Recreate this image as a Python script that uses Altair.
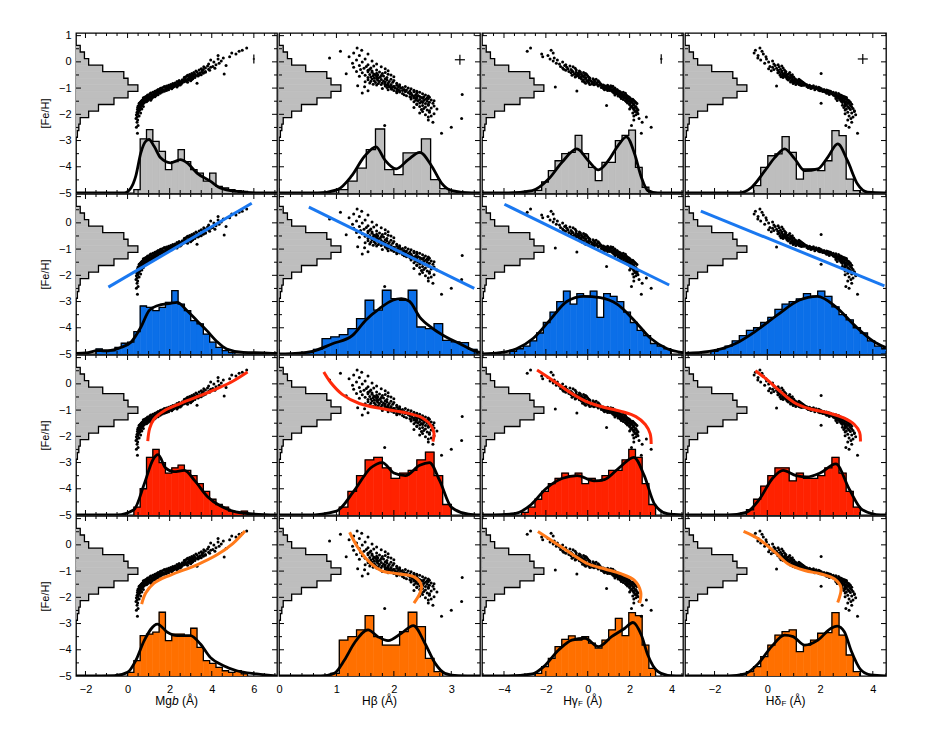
import altair as alt
import pandas as pd

W, H = 201, 160
FEH_DOMAIN = [-5.0, 1.1]
X_DOMAINS = [[-2.45, 7.1], [0.0, 3.5], [-5.05, 4.55], [-3.12, 4.5]]
HIST_X_FULL = 143      # count that would span the full panel width (left histogram)
HIST_UNIT = 0.1        # [Fe/H] units per count (bottom histograms)

X_LABELS = [[-2, 0, 2, 4, 6], [0, 1, 2, 3], [-4, -2, 0, 2, 4], [-2, 0, 2, 4]]
X_MAJOR_TICKS = [[-2, 0, 2, 4, 6], [0, 1, 2, 3], [-4, -2, 0, 2, 4], [-2, 0, 2, 4]]
X_MINOR_TICKS = [
    [-1.5, -1, -0.5, 0.5, 1, 1.5, 2.5, 3, 3.5, 4.5, 5, 5.5, 6.5, 7],
    [0.2, 0.4, 0.6, 0.8, 1.2, 1.4, 1.6, 1.8, 2.2, 2.4, 2.6, 2.8, 3.2, 3.4],
    [-5, -4.5, -3.5, -3, -2.5, -1.5, -1, -0.5, 0.5, 1, 1.5, 2.5, 3, 3.5, 4.5],
    [-3, -2.5, -1.5, -1, -0.5, 0.5, 1, 1.5, 2.5, 3, 3.5, 4.5],
]
Y_MAJOR_TICKS = [-5, -4, -3, -2, -1, 0, 1]
Y_MINOR_TICKS = [-4.5, -3.5, -2.5, -1.5, -0.5, 0.5]
Y_LABELS_TOP = [1, 0, -1, -2, -3, -4, -5]
Y_LABELS = [0, -1, -2, -3, -4, -5]

GRAY = "#bebebe"
FILLS = [GRAY, "#0b6fe8", "#ff2200", "#ff7000"]
LINES = [None, "#1a78f0", "#ff2a0a", "#ff7a1a"]

# ---------------- scatter data (one star per index) ----------------
FEH_BINS = [
    [0.53, 0.44, 0.40],
    [0.34, 0.30, 0.24, 0.19, 0.15],
    [0.11, 0.07, 0.03, -0.01, -0.05, -0.08, -0.11],
    [-0.14, -0.16, -0.18, -0.19, -0.21, -0.23, -0.24, -0.26, -0.28, -0.29, -0.31, -0.32, -0.34, -0.35, -0.37],
    [-0.38, -0.39, -0.40, -0.41, -0.42, -0.43, -0.44, -0.45, -0.46, -0.47, -0.48, -0.49, -0.50, -0.50, -0.51,
     -0.52, -0.53, -0.54, -0.55, -0.56, -0.57, -0.58, -0.59, -0.60, -0.60, -0.61, -0.62],
    [-0.63, -0.64, -0.65, -0.66, -0.67, -0.68, -0.69, -0.70, -0.71, -0.72, -0.73, -0.74, -0.75, -0.75, -0.76,
     -0.77, -0.78, -0.79, -0.80, -0.81, -0.82, -0.82, -0.83, -0.84, -0.85, -0.86, -0.86, -0.87, -0.88, -0.88],
    [-0.89, -0.89, -0.90, -0.91, -0.92, -0.92, -0.93, -0.94, -0.95, -0.95, -0.96, -0.97, -0.98, -0.98, -0.99,
     -1.00, -1.00, -1.01, -1.02, -1.03, -1.03, -1.04, -1.05, -1.06, -1.06, -1.07, -1.08, -1.09, -1.09, -1.10,
     -1.11, -1.11, -1.12, -1.12, -1.12],
    [-1.13, -1.14, -1.15, -1.16, -1.17, -1.18, -1.19, -1.20, -1.21, -1.22, -1.23, -1.24, -1.25, -1.25, -1.26,
     -1.27, -1.28, -1.29, -1.30, -1.31, -1.32, -1.33, -1.33, -1.34, -1.35, -1.36, -1.36, -1.37, -1.37, -1.19],
    [-1.38, -1.39, -1.40, -1.41, -1.42, -1.43, -1.44, -1.45, -1.46, -1.47, -1.48, -1.49, -1.50, -1.51, -1.52,
     -1.54, -1.55, -1.57, -1.58, -1.59, -1.61, -1.62],
    [-1.63, -1.65, -1.66, -1.68, -1.70, -1.72, -1.74, -1.76, -1.78, -1.80, -1.82, -1.84, -1.86],
    [-1.89, -1.92, -1.95, -1.98, -2.02, -2.06, -2.10],
    [-2.16, -2.22, -2.30],
    [-2.43, -2.49],
    [-2.72],
]
MGB_BINS = [
    [5.66, 5.45, 5.30],
    [4.95, 5.15, 4.30, 4.85, 4.55],
    [4.30, 3.95, 4.45, 4.10, 4.35, 3.85, 4.20],
    [4.68, 3.80, 4.05, 3.62, 3.95, 3.70, 4.15, 3.50, 3.85, 3.60, 3.40, 3.90, 3.55, 3.25, 3.70],
    [3.55, 3.30, 3.70, 3.15, 3.45, 3.60, 3.05, 3.35, 4.59, 3.20, 2.95, 3.50, 3.10, 3.40, 2.85,
     3.25, 3.00, 3.35, 2.80, 3.15, 2.90, 3.05, 2.70, 3.20, 2.95, 2.75, 3.00],
    [2.95, 3.10, 2.70, 2.85, 3.05, 2.60, 2.90, 2.75, 2.45, 3.00, 2.65, 2.80, 2.55, 2.35, 2.70,
     2.50, 2.85, 2.40, 2.60, 2.25, 3.30, 2.45, 2.15, 2.55, 2.30, 2.05, 2.40, 2.20, 2.50, 2.10],
    [2.25, 1.95, 2.40, 2.10, 1.85, 2.30, 2.05, 1.75, 2.20, 1.95, 2.35, 1.70, 2.00, 2.15, 1.80,
     1.60, 2.05, 1.90, 1.55, 1.85, 2.10, 1.65, 1.45, 1.80, 1.95, 1.50, 1.70, 1.40, 1.85, 1.60,
     1.35, 1.55, 1.75, 1.30, 1.50],
    [1.50, 1.30, 1.65, 1.20, 1.45, 1.35, 1.10, 1.55, 1.25, 1.40, 1.05, 1.30, 1.15, 1.45, 0.95,
     1.20, 1.35, 1.00, 1.25, 0.90, 1.10, 1.30, 0.85, 1.05, 1.20, 0.80, 0.95, 1.10, 0.75, 1.40],
    [1.05, 0.85, 1.15, 0.95, 0.75, 1.00, 0.90, 0.70, 1.10, 0.80, 0.95, 0.65, 0.85, 0.75, 0.90,
     0.60, 0.80, 0.70, 0.55, 0.75, 0.65, 0.60],
    [0.70, 0.55, 0.65, 0.50, 0.75, 0.60, 0.48, 0.62, 0.55, 0.68, 0.47, 0.58, 0.52],
    [0.52, 0.45, 0.62, 0.48, 0.42, 0.55, 0.45],
    [0.40, 0.48, 0.45],
    [0.50, 0.42],
    [0.47],
]
HB_BINS = [
    [1.36, 1.44, 1.07],
    [1.30, 1.55, 1.40, 1.22, 0.88],
    [1.50, 1.35, 1.62, 1.45, 1.28, 1.70, 1.55],
    [1.40, 1.65, 1.52, 1.78, 1.30, 1.60, 1.48, 1.85, 1.58, 1.42, 1.70, 1.55, 1.90, 1.62, 1.35],
    [1.55, 1.75, 1.62, 1.85, 1.45, 1.70, 1.80, 1.17, 1.65, 1.90, 1.58, 1.72, 1.68, 1.95, 1.50,
     1.78, 1.64, 1.82, 1.40, 1.70, 2.00, 1.60, 1.76, 1.88, 1.55, 1.73, 1.66],
    [1.70, 1.85, 1.62, 1.95, 1.78, 1.55, 1.88, 1.72, 2.00, 1.66, 1.82, 1.60, 1.92, 1.75, 1.50,
     1.85, 1.98, 1.68, 1.80, 1.58, 1.90, 2.05, 1.73, 1.84, 1.64, 1.95, 1.78, 2.10, 1.70, 1.88],
    [1.90, 2.05, 1.95, 1.37, 2.10, 1.85, 2.00, 2.20, 1.92, 1.49, 2.08, 1.98, 2.15, 1.88, 2.02,
     2.25, 1.95, 2.12, 1.80, 2.05, 2.30, 1.96, 2.18, 2.08, 1.90, 2.22, 2.35, 2.00, 2.15, 1.55,
     2.28, 2.10, 2.40, 2.20, 2.05],
    [2.20, 2.35, 2.10, 2.45, 2.25, 2.05, 2.40, 2.30, 2.15, 2.50, 2.28, 3.19, 2.38, 2.18, 2.55,
     2.32, 2.42, 2.22, 2.60, 2.35, 2.45, 2.28, 2.52, 2.40, 2.62, 2.30, 2.48, 2.38, 2.58, 1.45],
    [2.35, 2.50, 2.40, 2.60, 2.30, 2.55, 2.45, 2.65, 2.38, 2.52, 2.70, 2.42, 2.58, 2.48, 2.35,
     2.62, 2.50, 2.45, 2.68, 2.55, 2.40, 2.60],
    [2.40, 2.60, 2.50, 2.70, 2.45, 2.55, 2.35, 2.65, 2.52, 2.75, 2.48, 2.58, 2.62],
    [2.50, 2.62, 2.45, 2.70, 2.55, 2.65, 2.60],
    [3.18, 2.60, 2.68],
    [1.84, 3.00],
    [2.83],
]
HG_BINS = [
    [-2.73, -1.75, -2.89],
    [-1.65, -2.20, -1.90, -2.15, -1.60],
    [-1.80, -1.45, -1.65, -1.20, -1.50, -1.35, -1.05],
    [-1.10, -0.85, -1.30, -0.70, -1.00, -1.20, -0.60, -0.95, -1.15, -0.80, -0.55, -1.05, -0.75, -0.40, -0.90],
    [-0.70, -0.35, -0.55, -0.20, -0.80, -0.45, -0.10, -0.60, -0.30, -0.65, -0.05, -0.40, -0.50, -0.15, -0.75,
     -0.25, -0.45, 0.00, -0.55, -0.30, -0.20, -0.60, 0.05, -0.35, -0.10, -0.40, 0.10],
    [-0.10, 0.25, -0.30, 0.40, 0.05, -0.20, 0.30, 0.10, -0.05, 0.50, 0.15, -0.25, 0.35, 0.00, 0.20,
     0.55, -0.15, 0.25, 0.45, 0.05, 0.30, -0.10, 0.60, 0.20, 0.40, 0.10, 0.65, 0.30, 0.50, 0.75],
    [0.60, 0.95, 0.75, 1.10, 0.50, 0.85, 1.20, 0.70, 1.00, 0.90, -1.55, 0.80, 1.15, 0.65, 1.05,
     0.95, 1.30, 0.85, 0.75, 1.25, 1.00, 0.90, 1.40, 1.10, 0.80, 1.20, 1.35, 1.05, 0.95, 1.45,
     1.15, -0.52, 1.30, 1.50, 1.20],
    [1.30, 1.55, 1.20, 1.70, 1.40, 1.60, 1.25, 1.80, 1.50, 1.35, 1.65, 1.45, 1.75, 1.55, 1.30,
     1.85, 1.60, 1.70, 1.45, 1.90, 1.65, 1.55, 1.95, 1.75, 1.85, 1.60, 2.00, 1.80, 1.90, 1.40],
    [1.75, 1.95, 1.60, 2.05, 1.85, 2.15, 1.70, 2.00, 1.90, 2.20, 1.80, 2.10, 1.95, 2.25, 1.85,
     2.05, 2.30, 1.90, 2.15, 2.35, 2.00, 2.20],
    [2.00, 2.20, 0.90, 2.10, 2.30, 2.05, 2.25, 2.15, 2.35, 2.00, 2.20, 2.40, 2.30],
    [2.25, 2.35, 2.15, 2.40, 2.30, 2.20, 2.80],
    [2.45, 2.20, 2.60],
    [2.09, 3.03],
    [2.56],
]
HD_BINS = [
    [-0.28, -0.45, -0.20],
    [-0.50, -0.15, -0.35, -0.05, -0.36],
    [-0.03, -0.25, 0.20, 0.05, -0.10, 0.25, 0.41],
    [0.30, 0.55, 0.10, 0.45, 0.20, 0.60, 0.35, 0.05, 0.50, 0.25, 0.65, 0.40, 0.15, 0.55, 0.70],
    [0.45, 0.70, 0.55, 0.85, 0.40, 0.67, 2.04, 0.60, 0.80, 0.50, 0.75, 0.95, 0.62, 0.48, 0.88,
     0.70, 0.58, 0.92, 0.66, 0.78, 0.52, 1.00, 0.72, 0.60, 0.85, 0.95, 0.75],
    [0.85, 1.05, 0.75, 1.20, 0.95, 1.10, 0.80, 1.25, 1.00, 0.90, 1.15, 1.30, 0.95, 1.05, 1.20,
     0.88, 1.35, 1.10, 1.00, 1.25, 1.40, 1.15, 0.98, 1.30, 1.45, 1.20, 1.08, 1.50, 1.35, 1.25],
    [1.40, 1.60, 1.30, 1.75, 1.55, 0.35, 1.65, 1.50, 1.85, 1.70, 1.60, 1.95, 1.75, 1.55, 1.80,
     2.00, 1.70, 1.90, 1.65, 2.05, 1.85, 1.95, 2.15, 1.80, 2.05, 2.25, 1.95, 2.10, 2.30, 2.00,
     2.20, 2.35, 2.15, 2.40, 2.25],
    [2.10, 2.35, 2.20, 2.50, 2.30, 2.60, 2.40, 2.25, 2.70, 2.45, 2.55, 2.35, 2.75, 2.60, 2.50,
     2.80, 2.65, 2.55, 2.85, 2.70, 2.90, 2.60, 2.80, 2.95, 2.75, 2.85, 3.00, 2.90, 2.70, 2.30],
    [2.70, 2.90, 2.60, 3.00, 2.80, 2.95, 2.75, 3.05, 2.85, 2.65, 3.10, 2.90, 2.80, 3.00, 2.95,
     3.15, 2.85, 3.05, 2.04, 3.10, 2.95, 3.20],
    [3.00, 2.85, 3.15, 2.95, 3.05, 3.20, 2.90, 3.10, 3.25, 3.00, 3.15, 2.95, 3.30],
    [3.30, 3.05, 3.20, 2.95, 3.35, 3.10, 3.25],
    [3.17, 3.05, 3.20],
    [2.98, 3.10],
    [3.42],
]

# ---------------- [Fe/H] histogram (left, same in every panel) ----------------
FEH_EDGES = [0.625, 0.375, 0.125, -0.125, -0.375, -0.625, -0.875, -1.125, -1.375, -1.625,
             -1.875, -2.125, -2.375, -2.625, -2.875]
FEH_COUNTS = [3, 6, 9, 19, 34, 37, 44, 37, 27, 16, 9, 3, 2, 1]

# ---------------- index histograms: (first edge, bin width, counts) ----------------
HISTS = [
    [(0.3, 0.3, [1.3, 20.6, 24.2, 19.7, 15.9, 8.9, 12, 16.5, 12, 8.9, 7.6, 4.5, 7.6, 2.5, 1.9, 1.3, 0.9, 0.6]),
     (1.04, 0.16, [1.3, 4.5, 9.5, 16.5, 24.4, 8.9, 7, 15.3, 15.3, 20.6, 5.1, 1.7]),
     (-2.52, 0.32, [1, 4.2, 8.5, 12.3, 15, 15.5, 22, 15, 9.8, 4.7, 11.7, 11.7, 20, 22, 24, 9.8, 2.2]),
     (-0.52, 0.27, [2.8, 9.8, 14.2, 14.9, 21.5, 15.5, 5.3, 9.2, 9.2, 8.5, 12.3, 23.8, 21.9, 5.3, 0.9])],
    [(-1.5, 0.3, [1.9, 0.9, 1.2, 2.5, 4.1, 4.5, 8.5, 18.3, 17.8, 16.5, 17.8, 19.7, 24.2, 19, 16.5, 12.7,
                  11.5, 7.6, 4.5, 2.5, 1.3, 0.5]),
     (0.45, 0.15, [0.5, 1.8, 5.9, 6.5, 7.4, 9.7, 13.5, 20.5, 16.7, 24.3, 21.1, 20.5, 24.3, 10.3, 9.7, 11.6,
                   5.2, 4.6, 4.3, 1.8]),
     (-3.72, 0.32, [1, 2, 3, 5, 8, 12, 16, 20, 24, 19, 23, 22, 24, 14, 23, 22, 20, 16, 12, 9, 7, 4, 3, 2]),
     (-2.14, 0.27, [1, 2, 3, 5, 7, 9, 10, 12, 14, 17, 19, 20, 21, 23, 22, 24, 22, 18, 15, 13, 10, 8, 5, 3, 2])],
    [(0.3, 0.3, [3, 10, 22, 25, 20, 16, 18, 19, 17, 15, 12, 9, 6, 4, 3, 1.5, 1, 1.5]),
     (1.05, 0.15, [3, 9, 15, 21, 22, 18, 14, 16, 17, 21, 24, 15, 4]),
     (-3.16, 0.32, [1, 3, 6, 9, 12, 14, 16, 15, 16, 12, 14, 13, 15, 17, 17, 21, 25, 22, 12, 4]),
     (-0.79, 0.27, [2, 6, 11, 15, 18, 18, 13, 16, 14, 14, 15, 18, 22, 16, 9, 3])],
    [(0.0, 0.3, [1.4, 5.9, 15.4, 16, 16.7, 24.3, 13.5, 16, 16, 15.4, 18.2, 10.9, 5.9, 4.8, 3.3, 2, 1.4, 2, 0.8]),
     (0.9, 0.15, [1, 13.7, 15, 17.6, 23, 15, 11.8, 11.8, 16.9, 24.3, 18.8, 6.7, 1.7]),
     (-2.52, 0.32, [1, 3.6, 6.7, 11.2, 14, 15.3, 13.7, 15, 12.5, 10.6, 13.7, 17.6, 22, 15.4, 24.2, 23, 11.8, 2.9]),
     (-0.79, 0.27, [1.7, 3.6, 7.4, 11.8, 15.6, 16.9, 17.6, 9.3, 11.8, 13.7, 16.3, 16.5, 24.2, 15.6, 8, 1.7])],
]

# ---------------- smooth density curves ----------------
KDES = [
    [([-2.5, -0.6, -0.16, 0.16, 0.39, 0.63, 0.86, 1.02, 1.26, 1.57, 2.04, 2.51, 2.83, 3.30, 3.93, 4.40, 5.19, 6.44, 7.1],
      [0, 0, 0, 1.9, 6.4, 15.3, 19.7, 20.4, 17.8, 13.4, 11.5, 12.7, 11.5, 7.6, 4.5, 1.9, 0.6, 0, 0]),
     ([-0.1, 0.67, 1.02, 1.26, 1.49, 1.69, 1.84, 2.04, 2.25, 2.45, 2.66, 2.83, 3.01, 3.36, 3.6],
      [0, 0, 1.3, 6.4, 14.0, 17.6, 12.7, 9.2, 12.7, 15.5, 10.2, 3.8, 0.9, 0, 0]),
     ([-5.1, -3.92, -2.65, -1.87, -1.23, -0.52, 0.03, 0.51, 0.98, 1.45, 1.85, 2.24, 2.56, 2.87, 3.35, 4.6],
      [0, 0, 0.9, 5.3, 11.7, 16.8, 12.3, 8.8, 12.3, 18.1, 21.4, 14.9, 6, 0.9, 0, 0]),
     ([-3.2, -1.09, -0.59, -0.09, 0.29, 0.66, 1.04, 1.42, 1.92, 2.29, 2.67, 3.04, 3.42, 3.8, 4.42, 4.6],
      [0, 0, 2.2, 8.5, 13.6, 16.8, 13, 8.5, 9.2, 13.6, 18.7, 12.3, 3.4, 0.3, 0, 0])],
    [([-2.5, -1.97, -1.42, -0.94, -0.32, 0.16, 0.63, 1.02, 1.41, 2.04, 2.36, 2.83, 3.3, 3.77, 4.24, 4.71, 5.5, 6.44, 7.1],
      [0.2, 0.4, 1.3, 1.3, 2.5, 4.5, 10.2, 16.5, 18.4, 19.3, 19.7, 16.5, 12.7, 8.9, 4.8, 1.9, 0.6, 0.4, 0.2]),
     ([-0.005, 0.345, 0.58, 0.93, 1.28, 1.51, 1.75, 1.98, 2.13, 2.27, 2.45, 2.68, 2.91, 3.15, 3.38, 3.52],
      [0, 0.3, 1, 3.9, 7.1, 12.9, 17.3, 20.5, 21.1, 20.1, 14.1, 9.7, 6.5, 3.9, 1.4, 0.5]),
     ([-5.1, -4.2, -3.4, -2.6, -1.8, -1.0, -0.2, 0.6, 1.4, 2.2, 3.0, 3.8, 4.6],
      [0, 0.5, 2, 6, 13, 20, 22, 21.5, 19, 13, 6, 2, 0.5]),
     ([-3.2, -2.2, -1.2, -0.4, 0.4, 1.2, 1.9, 2.6, 3.3, 4.0, 4.6],
      [0.2, 1, 4, 9, 15, 20.5, 22, 18, 11, 5, 2])],
    [([-2.5, -0.5, 0.3, 0.8, 1.2, 1.45, 1.8, 2.2, 2.7, 3.2, 3.8, 4.4, 5, 5.8, 7.1],
      [0, 0, 2, 12, 21, 23, 18, 16.5, 17, 13, 7, 3.5, 1.5, 0.5, 0]),
     ([0, 0.5, 1.0, 1.3, 1.6, 1.8, 2.0, 2.2, 2.45, 2.62, 2.8, 3.0, 3.3, 3.5],
      [0, 0, 1.5, 9, 18, 20, 16, 15, 19, 20, 13, 3, 0.3, 0]),
     ([-5.1, -4.5, -3.5, -2.7, -2, -1.2, -0.5, 0.3, 0.8, 1.5, 2.2, 2.7, 3.2, 3.8, 4.6],
      [0, 0, 0.5, 4, 10, 14, 15, 13, 13.5, 18, 22, 15, 4, 0.5, 0]),
     ([-3.2, -1.5, -0.8, -0.3, 0.2, 0.6, 1.1, 1.5, 2, 2.6, 3.1, 3.6, 4.3, 4.6],
      [0, 0, 1, 6, 14, 17, 15, 14.5, 16, 19.5, 10, 2, 0, 0])],
    [([-2.5, -1.89, -0.63, 0, 0.39, 0.79, 1.42, 1.89, 2.36, 2.99, 3.46, 3.93, 4.56, 5.19, 6.13, 7.1],
      [0, 0, 0.1, 1.4, 5.9, 13.5, 19.8, 16.7, 15.4, 15.4, 12.2, 7.1, 3.9, 2, 0.8, 0]),
     ([0, 0.73, 0.96, 1.14, 1.31, 1.55, 1.72, 1.9, 2.13, 2.34, 2.54, 2.72, 2.89, 3.12, 3.5],
      [0, 0, 1, 6.1, 12.5, 17.6, 15, 13.5, 16.3, 19.2, 12.5, 4.8, 1, 0.1, 0]),
     ([-5.1, -3.92, -2.65, -2.1, -1.39, -0.76, -0.13, 0.51, 1.14, 1.77, 2.16, 2.56, 2.87, 3.35, 3.98, 4.6],
      [0, 0, 0.8, 3.6, 9.9, 13.7, 14.4, 11.2, 15, 18.2, 20.4, 15.6, 8, 1.7, 0.1, 0]),
     ([-3.2, -1.47, -0.84, -0.34, 0.16, 0.66, 0.98, 1.42, 1.92, 2.42, 2.65, 2.92, 3.17, 3.55, 3.92, 4.52],
      [0, 0, 0.8, 4.8, 11.2, 15.6, 15, 11.8, 13.7, 18.2, 19, 16.9, 9.9, 2.3, 0.4, 0])],
]

# ---------------- fitted relations (rows 2-4) ----------------
FITS = [
    None,
    [([-0.91, 5.9], [-2.45, 0.75]),
     ([0.52, 3.40], [0.60, -2.50]),
     ([-3.98, 3.89], [0.71, -2.37]),
     ([-2.52, 4.44], [0.45, -2.40])],
    [([0.96, 1.05, 1.25, 1.8, 2.5, 3.3, 4.2, 5.0, 5.7], [-2.18, -1.7, -1.35, -1.0, -0.75, -0.5, -0.2, 0.1, 0.45]),
     ([0.78, 0.9, 1.1, 1.4, 1.8, 2.2, 2.5, 2.65, 2.7, 2.68], [0.45, 0.05, -0.4, -0.75, -0.95, -1.1, -1.3, -1.6, -1.9, -2.2]),
     ([-2.42, -1.7, -0.8, 0.0, 0.8, 1.6, 2.3, 2.75, 2.98, 3.03], [0.53, 0.15, -0.35, -0.7, -0.9, -1.05, -1.25, -1.55, -1.9, -2.29]),
     ([-0.45, 0.0, 0.5, 1.0, 1.6, 2.3, 2.9, 3.3, 3.5, 3.53], [0.5, 0.15, -0.3, -0.7, -0.95, -1.1, -1.3, -1.55, -1.85, -2.2])],
    [([0.67, 0.86, 1.26, 2.04, 3.3, 4.25, 5.0, 5.58], [-2.26, -1.84, -1.46, -1.15, -0.76, -0.38, 0.05, 0.53]),
     ([1.23, 1.37, 1.55, 1.78, 2.07, 2.36, 2.48, 2.45, 2.35], [0.48, -0.09, -0.6, -0.98, -1.1, -1.23, -1.55, -1.86, -2.22]),
     ([-2.38, -1.71, -0.76, 0.03, 0.82, 1.61, 2.24, 2.53, 2.48], [0.51, 0.16, -0.35, -0.73, -0.92, -1.11, -1.36, -1.8, -2.22]),
     ([-0.9, -0.34, 0.29, 0.79, 1.42, 2.04, 2.55, 2.79, 2.67], [0.51, 0.23, -0.28, -0.73, -0.98, -1.11, -1.3, -1.62, -2.2])],
]

# typical error bars (top row): x, y, x half-error, y half-error
ERRS = [(6.0, 0.11, 0.05, 0.17), (3.15, 0.08, 0.088, 0.19), (3.51, 0.11, 0.06, 0.18), (3.62, 0.11, 0.19, 0.19)]

# x-axis titles: (text, align, dx, dy, size, style)
X_TITLES = [
    [("Mg", "right", -4.6, 0, 12, "normal"), ("b", "left", -4.6, 0, 12, "italic"), ("(Å)", "left", 5.4, 0, 12, "normal")],
    [("Hβ (Å)", "center", 0, 0, 12, "normal")],
    [("Hγ", "right", -4.7, 0, 12, "normal"), ("F", "left", -4.4, 3, 8, "normal"), ("(Å)", "left", 3.8, 0, 12, "normal")],
    [("Hδ", "right", -4.4, 0, 12, "normal"), ("F", "left", -4.1, 3, 8, "normal"), ("(Å)", "left", 4.1, 0, 12, "normal")],
]
TITLE_FEH = -5.95   # [Fe/H] coordinate (below the frame) at which the x titles sit

FONT = "Liberation Sans"


def flat(b):
    return [v for bb in b for v in bb]


FEH = flat(FEH_BINS)
XCOLS = [flat(MGB_BINS), flat(HB_BINS), flat(HG_BINS), flat(HD_BINS)]
SCATTER = [pd.DataFrame({"x": XCOLS[c], "feh": FEH}) for c in range(4)]


def left_hist_tables(c):
    x0, x1 = X_DOMAINS[c]
    k = (x1 - x0) / HIST_X_FULL
    rect = pd.DataFrame({"x0": [x0] * len(FEH_COUNTS),
                         "x1": [x0 + n * k for n in FEH_COUNTS],
                         "hi": FEH_EDGES[:-1], "lo": FEH_EDGES[1:]})
    pts = [(x0, FEH_EDGES[0])]
    for i, n in enumerate(FEH_COUNTS):
        pts += [(x0 + n * k, FEH_EDGES[i]), (x0 + n * k, FEH_EDGES[i + 1])]
    pts.append((x0, FEH_EDGES[-1]))
    line = pd.DataFrame({"x": [p[0] for p in pts], "y": [p[1] for p in pts], "i": list(range(len(pts)))})
    return rect, line


def bottom_hist_tables(start, width, counts):
    base = FEH_DOMAIN[0]
    edges = [start + width * k for k in range(len(counts) + 1)]
    rect = pd.DataFrame({"lo": edges[:-1], "hi": edges[1:], "y0": [base] * len(counts),
                         "y1": [base + n * HIST_UNIT for n in counts]})
    p = [(edges[0], base)]
    for k, n in enumerate(counts):
        p += [(edges[k], base + n * HIST_UNIT), (edges[k + 1], base + n * HIST_UNIT)]
    p.append((edges[-1], base))
    line = pd.DataFrame({"x": [q[0] for q in p], "y": [q[1] for q in p], "i": list(range(len(p)))})
    return rect, line


def tick_tables(c):
    x0, x1 = X_DOMAINS[c]
    y0, y1 = FEH_DOMAIN
    out = {}
    for name, vals in (("ymaj", Y_MAJOR_TICKS), ("ymin", Y_MINOR_TICKS)):
        out[name] = pd.DataFrame({"x": [x0] * len(vals) + [x1] * len(vals), "y": vals + vals})
    for name, vals in (("xmaj", X_MAJOR_TICKS[c]), ("xmin", X_MINOR_TICKS[c])):
        out[name] = pd.DataFrame({"x": vals + vals, "y": [y0] * len(vals) + [y1] * len(vals)})
    return out


def panel(r, c):
    xs = alt.Scale(domain=X_DOMAINS[c], nice=False, zero=False)
    ys = alt.Scale(domain=FEH_DOMAIN, nice=False, zero=False)

    if r == 3:
        xaxis = alt.Axis(values=X_LABELS[c], ticks=False, tickSize=0, domain=False, grid=False,
                         title=None, labelPadding=7, labelFlush=False, labelOverlap=False, format="d",
                         labelFontSize=11, labelFont=FONT, labelColor="black")
    else:
        xaxis = None
    if c == 0:
        yaxis = alt.Axis(values=Y_LABELS_TOP if r == 0 else Y_LABELS, ticks=False, tickSize=0,
                         domain=False, grid=False, title="[Fe/H]", titlePadding=8, labelPadding=5,
                         labelFlush=False, labelOverlap=False, format="d",
                         labelFontSize=11, labelFont=FONT, labelColor="black",
                         titleFontSize=11, titleFont=FONT, titleFontWeight="normal", titleColor="black")
    else:
        yaxis = None

    # identical axis definitions in every layer so that the shared axes merge cleanly
    def X(f):
        return alt.X(f, scale=xs, axis=xaxis)

    def Y(f):
        return alt.Y(f, scale=ys, axis=yaxis)

    lrect, lline = left_hist_tables(c)
    start, width, counts = HISTS[r][c]
    brect, bline = bottom_hist_tables(start, width, counts)
    kx, ky = KDES[r][c]
    kde = pd.DataFrame({"x": kx, "y": [FEH_DOMAIN[0] + v * HIST_UNIT for v in ky]})
    ticks = tick_tables(c)

    layers = [
        alt.Chart(lrect).mark_rect(color=GRAY, stroke=GRAY, strokeWidth=0.6).encode(
            x=X("x0:Q"), x2="x1:Q", y=Y("hi:Q"), y2="lo:Q"),
        alt.Chart(lline).mark_line(color="black", strokeWidth=1.3).encode(
            x=X("x:Q"), y=Y("y:Q"), order="i:Q"),
        alt.Chart(brect).mark_rect(color=FILLS[r], stroke=FILLS[r], strokeWidth=0.6, clip=True).encode(
            x=X("lo:Q"), x2="hi:Q", y=Y("y0:Q"), y2="y1:Q"),
        alt.Chart(bline).mark_line(color="black", strokeWidth=1.3, clip=True).encode(
            x=X("x:Q"), y=Y("y:Q"), order="i:Q"),
        alt.Chart(kde).mark_line(color="black", strokeWidth=2.8, interpolate="monotone", clip=True).encode(
            x=X("x:Q"), y=Y("y:Q")),
        alt.Chart(SCATTER[c]).mark_circle(size=9, color="black", opacity=1, clip=True).encode(
            x=X("x:Q"), y=Y("feh:Q")),
    ]
    if FITS[r] is not None:
        fx, fy = FITS[r][c]
        fdf = pd.DataFrame({"x": fx, "y": fy, "i": list(range(len(fx)))})
        layers.append(
            alt.Chart(fdf).mark_line(color=LINES[r], strokeWidth=3,
                                     interpolate="linear" if r == 1 else "catmull-rom", clip=True).encode(
                x=X("x:Q"), y=Y("y:Q"), order="i:Q"))
    if r == 0:
        ex, ey, dx, dy = ERRS[c]
        edf = pd.DataFrame({"x": [ex], "y": [ey], "xl": [ex - dx], "xh": [ex + dx],
                            "yl": [ey - dy], "yh": [ey + dy]})
        layers.append(alt.Chart(edf).mark_rule(color="black", strokeWidth=1.2).encode(
            x=X("xl:Q"), x2="xh:Q", y=Y("y:Q")))
        layers.append(alt.Chart(edf).mark_rule(color="black", strokeWidth=1.2).encode(
            x=X("x:Q"), y=Y("yl:Q"), y2="yh:Q"))

    # inward ticks on all four sides (outer half clipped by the frame)
    layers += [
        alt.Chart(ticks["ymaj"]).mark_tick(orient="horizontal", size=10, thickness=1, color="black",
                                           opacity=1, clip=True).encode(x=X("x:Q"), y=Y("y:Q")),
        alt.Chart(ticks["ymin"]).mark_tick(orient="horizontal", size=6, thickness=1, color="black",
                                           opacity=1, clip=True).encode(x=X("x:Q"), y=Y("y:Q")),
        alt.Chart(ticks["xmaj"]).mark_tick(orient="vertical", size=10, thickness=1, color="black",
                                           opacity=1, clip=True).encode(x=X("x:Q"), y=Y("y:Q")),
        alt.Chart(ticks["xmin"]).mark_tick(orient="vertical", size=6, thickness=1, color="black",
                                           opacity=1, clip=True).encode(x=X("x:Q"), y=Y("y:Q")),
    ]

    # x-axis titles (bottom row) with italic / subscript pieces
    if r == 3:
        tdf = pd.DataFrame({"x": [sum(X_DOMAINS[c]) / 2], "y": [TITLE_FEH]})
        for txt, al, dx, dy, fs, st in X_TITLES[c]:
            layers.append(alt.Chart(tdf).mark_text(
                text=txt, align=al, dx=dx, dy=dy, fontSize=fs, fontStyle=st, font=FONT,
                color="black", baseline="middle").encode(x=X("x:Q"), y=Y("y:Q")))

    return alt.layer(*layers).properties(width=W, height=H)


chart = alt.concat(*[panel(r, c) for r in range(4) for c in range(4)],
                   columns=4, spacing={"row": 1, "column": 2}, bounds="flush").properties(
    padding={"left": 30, "top": 20, "right": 5, "bottom": 5},
    background="white",
).configure_view(stroke="black", strokeWidth=1.3)

chart.save("out.html", embed_options={"renderer": "svg", "actions": False})
